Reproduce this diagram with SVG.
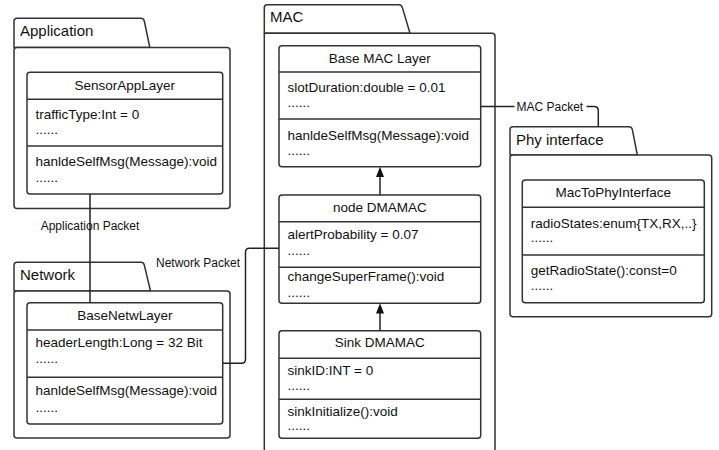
<svg xmlns="http://www.w3.org/2000/svg" width="719" height="450" viewBox="0 0 719 450">
<style>
.pkg{fill:#fff;stroke:#333;stroke-width:1.5;stroke-linejoin:round}
.cls{fill:#fff;stroke:#333;stroke-width:1.5}
.sep{stroke:#333;stroke-width:1.5}
.con{fill:none;stroke:#222;stroke-width:1.5}
.t{font-family:"Liberation Sans",Arial,sans-serif;font-size:13.5px;fill:#111}
.c{text-anchor:middle}
.pl{font-family:"Liberation Sans",Arial,sans-serif;font-size:15px;fill:#111}
.cl{font-family:"Liberation Sans",Arial,sans-serif;font-size:12px;fill:#111}
</style>
<rect width="719" height="450" fill="#fff"/>

<!-- Application package -->
<g id="pkg-application">
<path class="pkg" d="M14,47.5 V21.3 Q14,18.3 17,18.3 H141 Q143.5,18.3 144.3,21 L149.8,47.5 Z"/>
<rect class="pkg" x="14" y="47.5" width="216" height="161" rx="3"/>
<text class="pl" x="20" y="36">Application</text>
</g>
<g id="cls-sensorapplayer">
<rect class="cls" x="27" y="72.3" width="195.7" height="121.7" rx="3"/>
<line class="sep" x1="27" y1="99.3" x2="222.7" y2="99.3"/>
<line class="sep" x1="27" y1="146" x2="222.7" y2="146"/>
<text class="t c" x="124.8" y="90">SensorAppLayer</text>
<text class="t" x="35.5" y="118.5">trafficType:Int = 0</text>
<text class="t" x="35.5" y="133.5">......</text>
<text class="t" x="35.5" y="166">hanldeSelfMsg(Message):void</text>
<text class="t" x="35.5" y="182">......</text>
</g>

<!-- Network package -->
<g id="pkg-network">
<path class="pkg" d="M14,291 V265.3 Q14,262.3 17,262.3 H141 Q143.5,262.3 144.3,265 L150.5,291 Z"/>
<rect class="pkg" x="14" y="291" width="216" height="147" rx="3"/>
<text class="pl" x="20" y="279.5">Network</text>
</g>
<g id="cls-basenetwlayer">
<rect class="cls" x="27" y="302.7" width="195.7" height="121.3" rx="3"/>
<line class="sep" x1="27" y1="330" x2="222.7" y2="330"/>
<line class="sep" x1="27" y1="377.3" x2="222.7" y2="377.3"/>
<text class="t c" x="124.8" y="320">BaseNetwLayer</text>
<text class="t" x="35.5" y="347">headerLength:Long = 32 Bit</text>
<text class="t" x="35.5" y="363">......</text>
<text class="t" x="35.5" y="395">hanldeSelfMsg(Message):void</text>
<text class="t" x="35.5" y="411.5">......</text>
</g>

<!-- MAC package -->
<g id="pkg-mac">
<path class="pkg" d="M264.3,33.3 V7.7 Q264.3,4.7 267.3,4.7 H399 Q401.5,4.7 402.3,7.4 L410,33.3 Z"/>
<path class="pkg" d="M264.3,460 V33.3 H492 Q495,33.3 495,36.3 V460"/>
<text class="pl" x="270" y="22">MAC</text>
</g>
<g id="cls-basemaclayer">
<rect class="cls" x="279" y="45.7" width="201.7" height="121" rx="3"/>
<line class="sep" x1="279" y1="72" x2="480.7" y2="72"/>
<line class="sep" x1="279" y1="119" x2="480.7" y2="119"/>
<text class="t c" x="379.8" y="62.7">Base MAC Layer</text>
<text class="t" x="287.5" y="91.7">slotDuration:double = 0.01</text>
<text class="t" x="287.5" y="106.7">......</text>
<text class="t" x="287.5" y="140">hanldeSelfMsg(Message):void</text>
<text class="t" x="287.5" y="155">......</text>
</g>
<g id="cls-nodedmamac">
<rect class="cls" x="279" y="195" width="201.7" height="108.3" rx="3"/>
<line class="sep" x1="279" y1="221.7" x2="480.7" y2="221.7"/>
<line class="sep" x1="279" y1="267.3" x2="480.7" y2="267.3"/>
<text class="t c" x="379.8" y="211.7">node DMAMAC</text>
<text class="t" x="287.5" y="239">alertProbability = 0.07</text>
<text class="t" x="287.5" y="255">......</text>
<text class="t" x="287.5" y="280.5">changeSuperFrame():void</text>
<text class="t" x="287.5" y="296.7">......</text>
</g>
<g id="cls-sinkdmamac">
<rect class="cls" x="279" y="330.7" width="201.7" height="107.6" rx="3"/>
<line class="sep" x1="279" y1="358.3" x2="480.7" y2="358.3"/>
<line class="sep" x1="279" y1="399.3" x2="480.7" y2="399.3"/>
<text class="t c" x="379.8" y="346.7">Sink DMAMAC</text>
<text class="t" x="287.5" y="375">sinkID:INT = 0</text>
<text class="t" x="287.5" y="389.5">......</text>
<text class="t" x="287.5" y="416">sinkInitialize():void</text>
<text class="t" x="287.5" y="430">......</text>
</g>

<!-- Phy interface package -->
<g id="pkg-phy">
<path class="pkg" d="M510,155 V129.7 Q510,126.7 513,126.7 H629 Q631.5,126.7 632.3,129.4 L637.3,155 Z"/>
<rect class="pkg" x="510" y="155" width="201.7" height="161.7" rx="3"/>
<text class="pl" x="516" y="144.5">Phy interface</text>
</g>
<g id="cls-mactophyinterface">
<rect class="cls" x="522.3" y="180" width="182" height="122.7" rx="3"/>
<line class="sep" x1="522.3" y1="207.3" x2="704.3" y2="207.3"/>
<line class="sep" x1="522.3" y1="255" x2="704.3" y2="255"/>
<text class="t c" x="613.3" y="197.3">MacToPhyInterface</text>
<text class="t" x="530.7" y="228.3">radioStates:enum{TX,RX,..}</text>
<text class="t" x="530.7" y="241.7">......</text>
<text class="t" x="530.7" y="275">getRadioState():const=0</text>
<text class="t" x="530.7" y="290">......</text>
</g>

<!-- Connectors -->
<g id="connectors">
<path class="con" d="M90,194 V302.7"/>
<text class="cl c" x="90" y="230">Application Packet</text>
<path class="con" d="M222.7,363.3 H241.5 Q245.5,363.3 245.5,359.3 V252.3 Q245.5,248.3 249.5,248.3 H279"/>
<text class="cl" x="156" y="267">Network Packet</text>
<path class="con" d="M480.7,106.5 H594 Q598.3,106.5 598.3,110.8 V126.7"/>
<rect x="514.5" y="99" width="72" height="14" fill="#fff"/>
<text class="cl" x="516.5" y="111">MAC Packet</text>
<path class="con" d="M380,195 V176"/>
<polygon points="380,166.7 376,177 384,177" fill="#111"/>
<path class="con" d="M380,330.7 V312"/>
<polygon points="380,303.3 376,313.5 384,313.5" fill="#111"/>
</g>
</svg>
